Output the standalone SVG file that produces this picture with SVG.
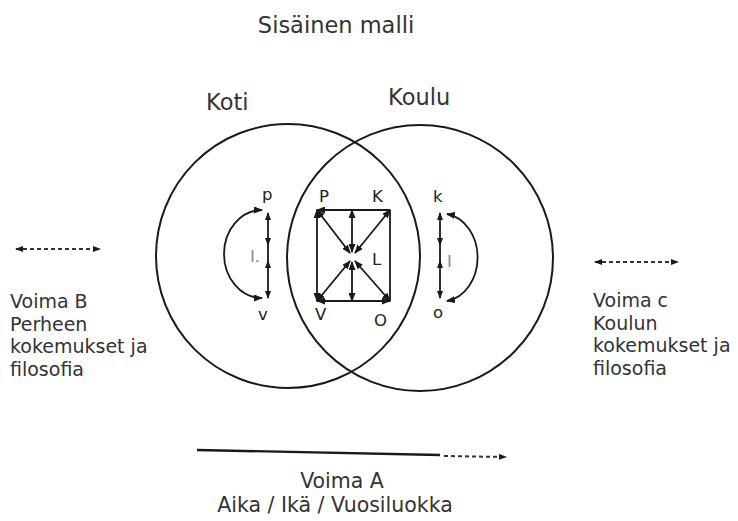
<svg xmlns="http://www.w3.org/2000/svg" width="738" height="521" viewBox="0 0 738 521">
<defs>
<marker id="ah" markerUnits="userSpaceOnUse" markerWidth="9" markerHeight="7" refX="8" refY="3.5" orient="auto-start-reverse"><path d="M0,0 L9,3.5 L0,7 z" fill="#1a1a1a"/></marker>
<marker id="ahs" markerUnits="userSpaceOnUse" markerWidth="8" markerHeight="6" refX="7" refY="3" orient="auto-start-reverse"><path d="M0,0 L8,3 L0,6 z" fill="#1a1a1a"/></marker>
</defs>
<style>
text{font-family:"DejaVu Sans","Open Sans",sans-serif;fill:#333}
.title{font-size:22.5px}
.h{font-size:22.5px}
.s{font-size:19px}
.b{font-size:20.5px}
.lb{font-size:16.5px;fill:#222}
.g{font-size:16.5px;fill:#888}
.c{fill:none;stroke:#1a1a1a;stroke-width:2}
.ln{fill:none;stroke:#1a1a1a;stroke-width:1.8}
.dh{fill:none;stroke:#333;stroke-width:2;stroke-dasharray:4 3}
</style>
<rect width="738" height="521" fill="#fff"/>
<g id="title"><text class="title" x="336" y="33" text-anchor="middle">Sisäinen malli</text></g>
<g id="koti">
<circle class="c" cx="288" cy="256" r="132"/>
<text class="h" x="206" y="110">Koti</text>
</g>
<g id="koulu">
<circle class="c" cx="420" cy="258" r="133"/>
<text class="h" x="388" y="105">Koulu</text>
</g>
<g id="voimaB">
<text class="s" x="10" y="308">Voima B</text>
<text class="s" x="10" y="330.5">Perheen</text>
<text class="s" x="10" y="353">kokemukset ja</text>
<text class="s" x="10" y="375.5">filosofia</text>
</g>
<g id="voimaC">
<text class="s" x="593" y="307">Voima c</text>
<text class="s" x="593" y="329.5">Koulun</text>
<text class="s" x="593" y="352">kokemukset ja</text>
<text class="s" x="593" y="374.5">filosofia</text>
</g>
<g id="voimaA">
<text class="b" x="342" y="488" text-anchor="middle">Voima A</text>
<text class="b" x="335" y="512" text-anchor="middle">Aika / Ikä / Vuosiluokka</text>
</g>
<g id="labels">
<text class="lb" x="262" y="200">p</text>
<text class="lb" x="258" y="320">v</text>
<text class="g" x="250" y="262">I.</text>
<text class="lb" x="319" y="202">P</text>
<text class="lb" x="372" y="202">K</text>
<text class="lb" x="372" y="265">L</text>
<text class="lb" x="315" y="320">V</text>
<text class="lb" x="374" y="326">O</text>
<text class="lb" x="433" y="202">k</text>
<text class="lb" x="433" y="318">o</text>
<text class="g" x="447" y="267">I</text>
</g>
<g id="connectors">
<line class="dh" x1="16" y1="249" x2="100" y2="249" marker-start="url(#ahs)" marker-end="url(#ahs)"/>
<line class="dh" x1="595" y1="262" x2="678" y2="262" marker-start="url(#ahs)" marker-end="url(#ahs)"/>
<path d="M197,450 L440,455" fill="none" stroke="#1a1a1a" stroke-width="2.4"/>
<line class="dh" x1="444" y1="456" x2="506" y2="457" marker-end="url(#ahs)"/>
<line class="ln" x1="390" y1="210" x2="317" y2="210" marker-end="url(#ah)"/>
<line class="ln" x1="317" y1="210" x2="317" y2="301" marker-start="url(#ah)" marker-end="url(#ah)"/>
<line class="ln" x1="317" y1="301" x2="390" y2="301" marker-start="url(#ah)" marker-end="url(#ah)"/>
<line class="ln" x1="390" y1="210" x2="390" y2="301"/>
<line class="ln" x1="317" y1="210" x2="350" y2="253" marker-start="url(#ah)" marker-end="url(#ah)"/>
<line class="ln" x1="390" y1="210" x2="355" y2="253" marker-start="url(#ah)" marker-end="url(#ah)"/>
<line class="ln" x1="317" y1="301" x2="350" y2="261" marker-start="url(#ah)" marker-end="url(#ah)"/>
<line class="ln" x1="390" y1="301" x2="355" y2="261" marker-start="url(#ah)" marker-end="url(#ah)"/>
<line class="ln" x1="352" y1="210" x2="352" y2="252" marker-start="url(#ah)" marker-end="url(#ah)"/>
<line class="ln" x1="352" y1="262" x2="352" y2="301" marker-start="url(#ah)" marker-end="url(#ah)"/>
<line class="ln" x1="268" y1="213" x2="268" y2="245" marker-start="url(#ahs)" marker-end="url(#ahs)"/>
<line class="ln" x1="268" y1="245" x2="268" y2="261"/>
<line class="ln" x1="268" y1="261" x2="268" y2="298" marker-start="url(#ahs)" marker-end="url(#ahs)"/>
<path class="ln" d="M262,210 A38,44 0 0 0 262,298" marker-start="url(#ah)" marker-end="url(#ah)"/>
<line class="ln" x1="440" y1="213" x2="440" y2="245" marker-start="url(#ahs)" marker-end="url(#ahs)"/>
<line class="ln" x1="440" y1="245" x2="440" y2="261"/>
<line class="ln" x1="440" y1="261" x2="440" y2="298" marker-start="url(#ahs)" marker-end="url(#ahs)"/>
<path class="ln" d="M447,214 A36,44 0 0 1 447,301" marker-start="url(#ah)" marker-end="url(#ah)"/>
</g>
</svg>
